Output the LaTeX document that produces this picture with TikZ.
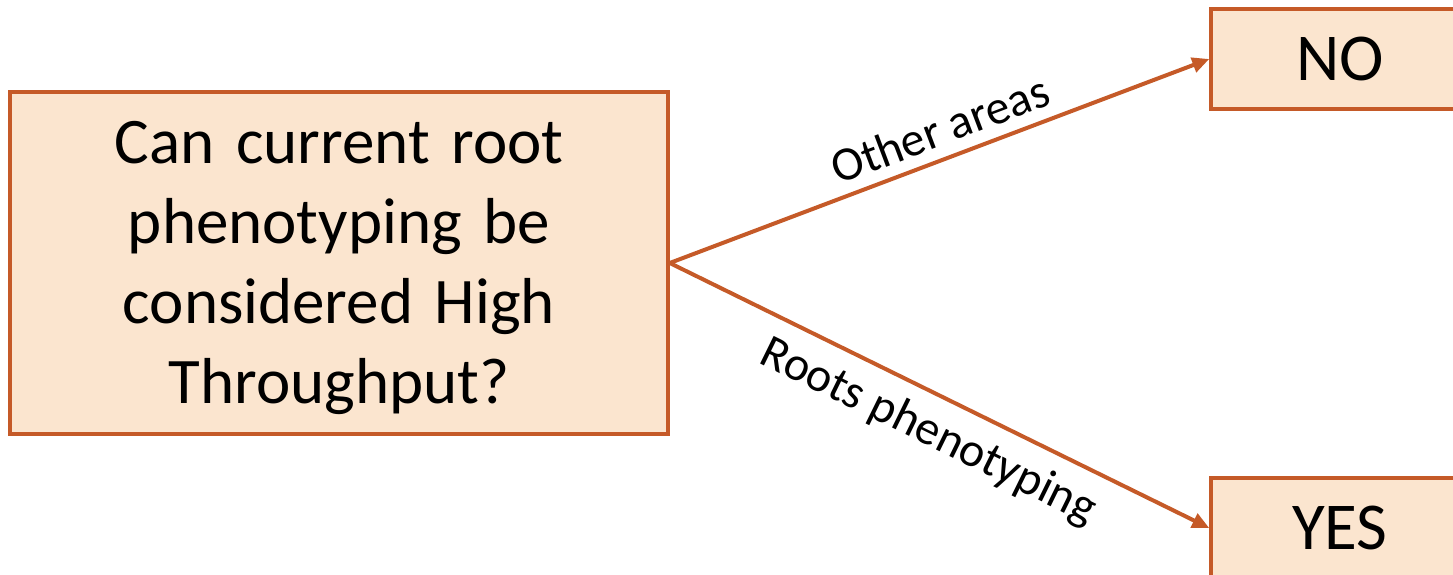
\documentclass[tikz,border=0pt]{standalone}
\usepackage{fontspec}
\setmainfont{Carlito}
\usetikzlibrary{arrows.meta}
\definecolor{edgec}{HTML}{C55A28}
\definecolor{fillc}{HTML}{FBE5CF}
\begin{document}
\begin{tikzpicture}[x=1pt,y=-1pt,
  box/.style={draw=edgec,fill=fillc,line width=3.5pt,inner sep=0pt,align=center,font=\fontsize{67}{80}\selectfont},
  conn/.style={draw=edgec,line width=4pt,-{Triangle[length=17pt,width=15pt]}},
  lab/.style={font=\fontsize{48}{56}\selectfont,sloped}]
\useasboundingbox (0,0) rectangle (1453,574);
\node[box,minimum width=658pt,minimum height=342pt] (q) at (339,263) {};
\node[align=center,text width=640pt,font=\fontsize{65}{80}\selectfont,inner sep=0pt] (qt) at ([yshift=-5pt]q.center) {Can current root\\phenotyping be\\considered High\\Throughput?};
\node[box,minimum width=258pt,minimum height=100pt] (no) at (1340,59) {NO};
\node[box,minimum width=258pt,minimum height=100pt] (yes) at (1340,528) {YES};
\draw[conn] (q.east) -- node[lab,above,inner sep=11pt,pos=0.52] {Other areas} (no.west);
\draw[conn] (q.east) -- node[lab,below,inner sep=15pt,pos=0.51] {Roots phenotyping} (yes.west);
\end{tikzpicture}
\end{document}
